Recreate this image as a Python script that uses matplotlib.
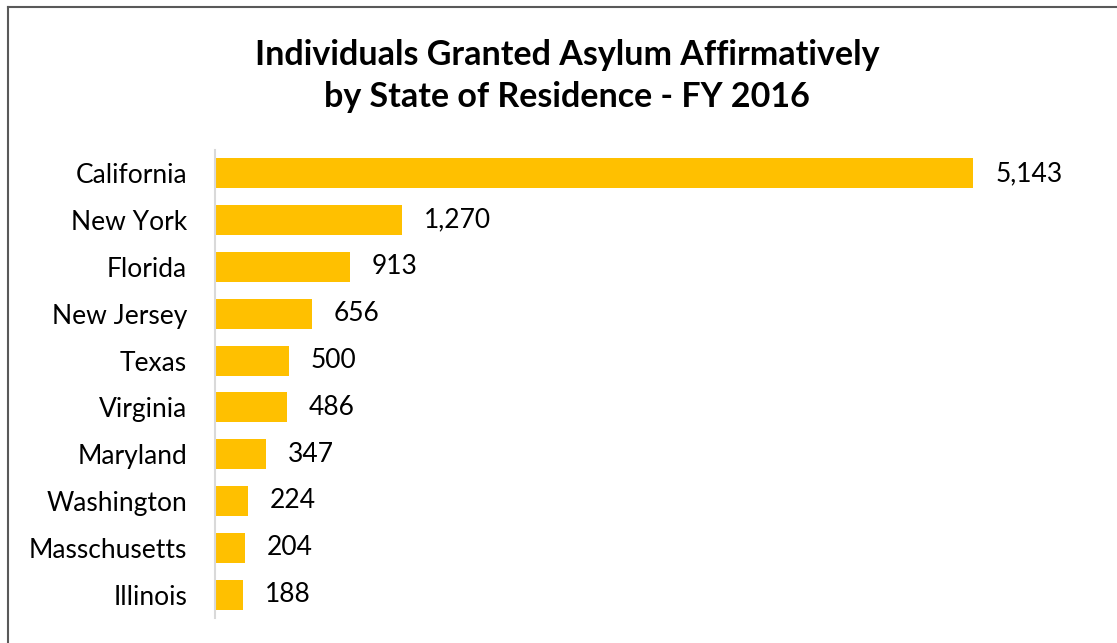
import matplotlib.pyplot as plt
from matplotlib.lines import Line2D

states = ['California', 'New York', 'Florida', 'New Jersey', 'Texas',
          'Virginia', 'Maryland', 'Washington', 'Masschusetts', 'Illinois']
granted = [5143, 1270, 913, 656, 500, 486, 347, 224, 204, 188]

title = 'Individuals Granted Asylum Affirmatively\nby State of Residence - FY 2016'

plt.rcParams['font.family'] = ['Lato', 'DejaVu Sans']

W, H = 1117, 643
fig = plt.figure(figsize=(W / 100, H / 100), dpi=100)

# frame of the original chart box (only top and left edges visible)
fig.add_artist(Line2D([8 / W, 8 / W], [0, 1 - 7 / H], transform=fig.transFigure,
                      color='#595959', lw=1.5))
fig.add_artist(Line2D([8 / W, 1], [1 - 7 / H, 1 - 7 / H], transform=fig.transFigure,
                      color='#595959', lw=1.5))

ax = fig.add_axes([215 / W, 1 - 618 / H, (1090 - 215) / W, (618 - 150) / H])
pos = list(range(len(states)))
ax.barh(pos, granted, height=0.64, color='#FFC000')
ax.set_ylim(len(states) - 0.5, -0.5)
ax.set_xlim(0, 5936)

for p, v in zip(pos, granted):
    ax.text(v + 150, p, f'{v:,}', va='center', ha='left', fontsize=19)

ax.set_yticks(pos)
ax.set_yticklabels(states, fontsize=19)
ax.tick_params(axis='y', length=0, pad=20)
ax.set_xticks([])
for s in ['top', 'right', 'bottom']:
    ax.spines[s].set_visible(False)
ax.spines['left'].set_color('#d9d9d9')
ax.spines['left'].set_linewidth(1.5)

fig.text(567 / W, 1 - 76 / H, title, ha='center', va='center', fontsize=24.5,
         fontweight='bold', linespacing=1.42)

fig.savefig('out.png', dpi=100)
